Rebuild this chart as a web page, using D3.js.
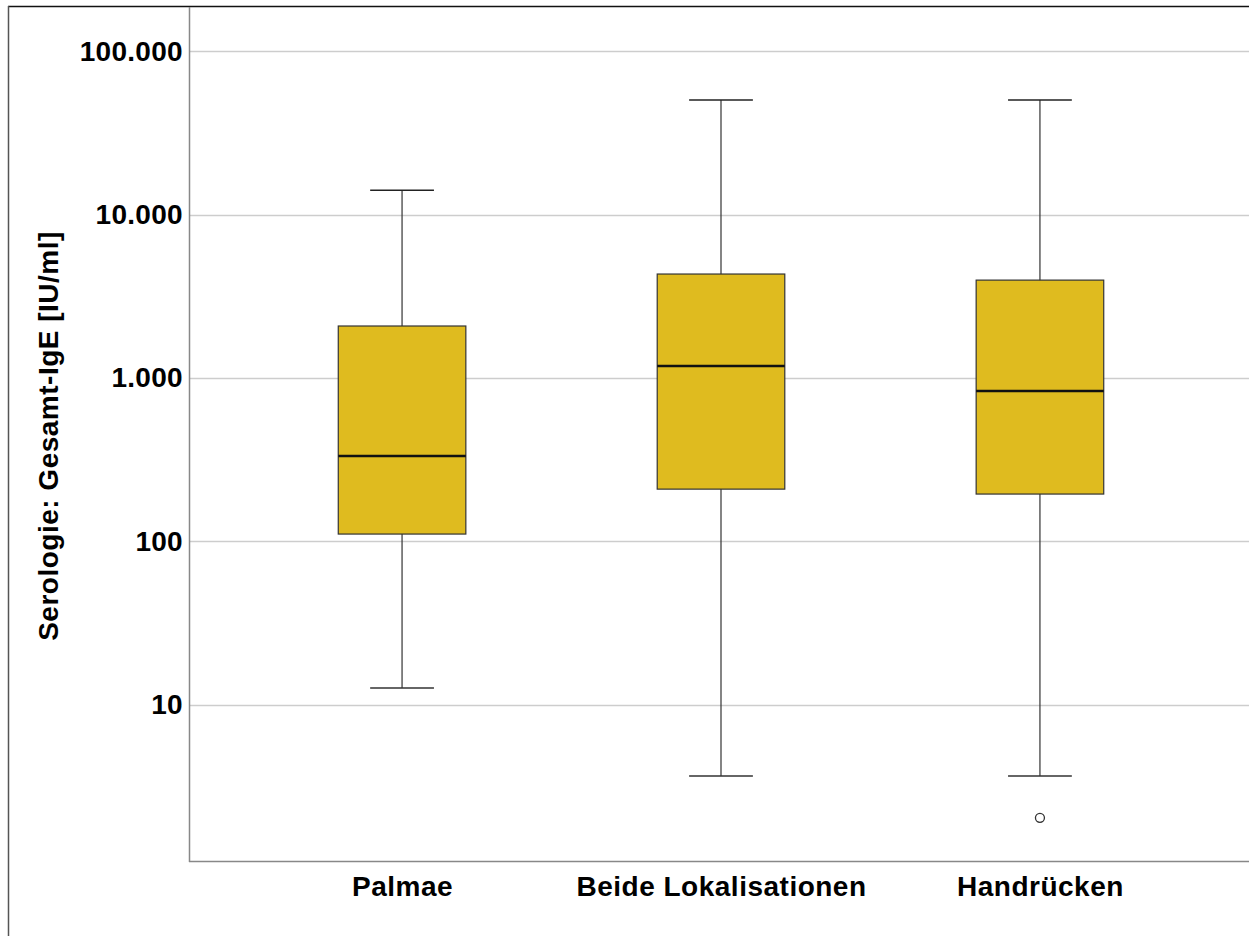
<!DOCTYPE html>
<html><head><meta charset="utf-8">
<script src="https://cdn.jsdelivr.net/npm/d3@7"></script>
<style>body{margin:0;background:#fff;}svg{display:block;font-family:"Liberation Sans",Arial,sans-serif;}</style>
</head><body>
<svg id="c" width="1249" height="936"></svg>
<script>
const categories = ["Palmae", "Beide Lokalisationen", "Handrücken"];
const whiskerLow  = [12.7, 3.68, 3.68];
const q1          = [111, 209, 195];
const median      = [333, 1183, 832];
const q3          = [2080, 4325, 3970];
const whiskerHigh = [14100, 50100, 50100];
const outliers    = [[], [], [2.04]];
const tickValues  = [10, 100, 1000, 10000, 100000];
const tickLabels  = ["10", "100", "1.000", "10.000", "100.000"];
const yTitle = "Serologie: Gesamt-IgE [IU/ml]";

(function () {
const svg = d3.select("#c");
const pLeft = 189, pRight = 1253, pTop = 7, pBottom = 861;
const y = d3.scaleLog().domain([1.11, 186000]).range([pBottom, pTop]);
const x = d3.scalePoint().domain(categories).range([pLeft, pRight]).padding(0.668);
const step = x.step();
const boxW = step * 0.4, capW = boxW * 0.5;
const FONT = '"Liberation Sans",Arial,sans-serif';

// outer frame
svg.append("line").attr("x1", 8).attr("x2", 1249).attr("y1", 6.5).attr("y2", 6.5).attr("stroke", "#111").attr("stroke-width", 1.5);
svg.append("line").attr("x1", 8.5).attr("x2", 8.5).attr("y1", 6).attr("y2", 936).attr("stroke", "#555").attr("stroke-width", 1.5);

// gridlines
svg.append("g").selectAll("line").data(tickValues).join("line")
  .attr("x1", pLeft).attr("x2", 1249)
  .attr("y1", d => Math.round(y(d)) + 0.5).attr("y2", d => Math.round(y(d)) + 0.5)
  .attr("stroke", "#cdcdcd").attr("stroke-width", 1.5);

// y axis
const yAxis = d3.axisLeft(y).tickValues(tickValues).tickFormat((d, i) => tickLabels[i]).tickSize(0).tickPadding(6);
const gy = svg.append("g").attr("transform", `translate(${pLeft},0)`).call(yAxis);
gy.select(".domain").remove();
gy.selectAll("text").attr("font-size", 28).attr("font-weight", "bold").attr("fill", "#000").attr("font-family", FONT)
  .attr("letter-spacing", 0.3);

// x axis
const xAxis = d3.axisBottom(x).tickSize(0).tickPadding(15);
const gx = svg.append("g").attr("transform", `translate(0,${pBottom})`).call(xAxis);
gx.select(".domain").remove();
gx.selectAll("text").attr("font-size", 28).attr("font-weight", "bold").attr("fill", "#000").attr("font-family", FONT)
  .attr("letter-spacing", 0.5);

// axis lines
svg.append("line").attr("x1", pLeft + 0.5).attr("x2", pLeft + 0.5).attr("y1", pTop).attr("y2", pBottom + 1).attr("stroke", "#888").attr("stroke-width", 1.5);
svg.append("line").attr("x1", pLeft).attr("x2", 1249).attr("y1", pBottom + 0.5).attr("y2", pBottom + 0.5).attr("stroke", "#888").attr("stroke-width", 1.5);

// y title
svg.append("text").attr("transform", `translate(58,${(pTop + pBottom) / 2 + 2}) rotate(-90)`)
  .attr("text-anchor", "middle").attr("font-size", 28).attr("font-weight", "bold").attr("font-family", FONT)
  .attr("letter-spacing", 0.5).text(yTitle);

// boxes
const data = categories.map((c, i) => ({c, lo: whiskerLow[i], q1: q1[i], med: median[i], q3: q3[i], hi: whiskerHigh[i], out: outliers[i]}));
const g = svg.append("g").selectAll("g").data(data).join("g");
g.append("line").attr("x1", d => x(d.c)).attr("x2", d => x(d.c)).attr("y1", d => y(d.hi)).attr("y2", d => y(d.lo))
  .attr("stroke", "#333").attr("stroke-width", 1.2);
g.append("line").attr("x1", d => x(d.c) - capW / 2).attr("x2", d => x(d.c) + capW / 2).attr("y1", d => y(d.hi)).attr("y2", d => y(d.hi))
  .attr("stroke", "#222").attr("stroke-width", 1.5);
g.append("line").attr("x1", d => x(d.c) - capW / 2).attr("x2", d => x(d.c) + capW / 2).attr("y1", d => y(d.lo)).attr("y2", d => y(d.lo))
  .attr("stroke", "#333").attr("stroke-width", 1.5);
g.append("rect").attr("x", d => x(d.c) - boxW / 2).attr("width", boxW)
  .attr("y", d => y(d.q3)).attr("height", d => y(d.q1) - y(d.q3))
  .attr("fill", "#dfbb1f").attr("stroke", "#333").attr("stroke-width", 1.2);
g.append("line").attr("x1", d => x(d.c) - boxW / 2).attr("x2", d => x(d.c) + boxW / 2).attr("y1", d => y(d.med)).attr("y2", d => y(d.med))
  .attr("stroke", "#111").attr("stroke-width", 2.5);
g.selectAll("circle").data(d => d.out.map(v => ({c: d.c, v}))).join("circle")
  .attr("cx", d => x(d.c)).attr("cy", d => y(d.v)).attr("r", 4.5)
  .attr("fill", "#fff").attr("stroke", "#333").attr("stroke-width", 1.3);
})();
</script>
</body></html>
